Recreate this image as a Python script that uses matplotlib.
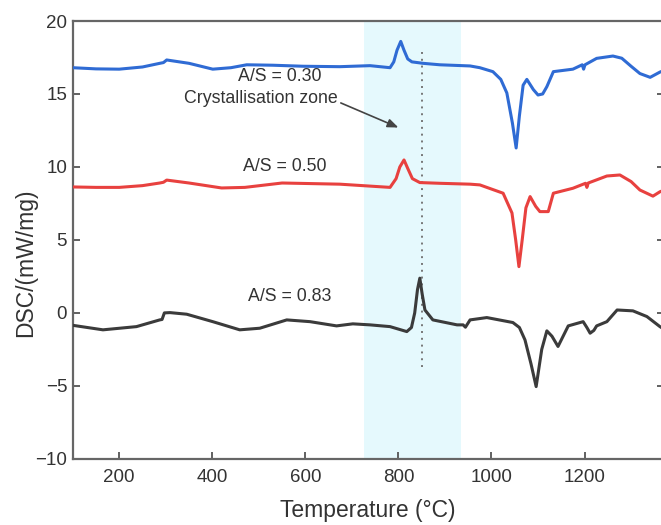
import matplotlib
matplotlib.use("Agg")
import matplotlib.pyplot as plt

plt.rcParams['font.family'] = ['Liberation Sans', 'DejaVu Sans']

# A/S = 0.30 (blue)
t_030 = [100, 150, 200, 250, 287, 295, 302, 350, 401, 440, 474, 530, 595, 674, 739, 782, 790, 797, 805, 812, 820, 829, 853, 889, 954,
         975, 1003, 1020, 1033, 1045, 1053, 1060, 1068, 1076, 1090, 1100, 1110, 1119, 1133, 1175, 1195, 1198, 1201,
         1226, 1261, 1280, 1300, 1319, 1341, 1362, 1370]
v_030 = [16.8, 16.72, 16.7, 16.85, 17.1, 17.15, 17.33, 17.1, 16.7, 16.8, 17.0, 16.97, 16.9, 16.87, 16.94, 16.8, 17.2, 18.0, 18.6, 18.0, 17.4, 17.2, 17.1, 17.0, 16.92,
         16.8, 16.53, 16.0, 15.07, 13.0, 11.3, 13.5, 15.6, 16.0, 15.3, 14.93, 15.0, 15.5, 16.53, 16.7, 17.0, 16.7, 17.0,
         17.44, 17.6, 17.45, 16.9, 16.4, 16.14, 16.5, 16.6]

# A/S = 0.50 (red)
t_050 = [100, 150, 200, 250, 287, 295, 302, 350, 420, 470, 550, 674, 782, 795, 803, 812, 820, 830, 846, 889, 954,
         975, 1025, 1044, 1052, 1059, 1066, 1074, 1083, 1095, 1104, 1122, 1133, 1175, 1202, 1205, 1208,
         1248, 1276, 1300, 1319, 1347, 1362, 1370]
v_050 = [8.63, 8.6, 8.6, 8.72, 8.9, 8.95, 9.1, 8.9, 8.56, 8.6, 8.9, 8.82, 8.6, 9.2, 10.0, 10.48, 9.9, 9.2, 8.93, 8.88, 8.82,
         8.77, 8.2, 6.85, 5.0, 3.17, 5.0, 7.2, 7.97, 7.3, 6.94, 6.94, 8.2, 8.54, 8.88, 8.6, 8.9,
         9.38, 9.45, 9.0, 8.42, 8.0, 8.3, 8.4]

# A/S = 0.83 (dark grey)
t_083 = [100, 165, 237, 287, 292, 297, 309, 345, 401, 459, 502, 560, 610, 667, 702, 739, 782, 818,
         828, 835, 841, 846, 851, 857, 874, 926, 939, 944, 954, 990, 1046, 1060, 1072, 1085, 1096, 1108, 1119,
         1130, 1143, 1165, 1197, 1205, 1212, 1220, 1226, 1248, 1270, 1304, 1334, 1362, 1370]
v_083 = [-0.85, -1.16, -0.94, -0.48, -0.45, 0.0, 0.02, -0.09, -0.6, -1.16, -1.05, -0.48, -0.6, -0.89, -0.75, -0.82, -0.94, -1.28,
         -1.0, 0.0, 1.6, 2.38, 1.3, 0.2, -0.48, -0.82, -0.82, -0.98, -0.48, -0.32, -0.66, -1.0, -1.85, -3.5, -5.05, -2.5, -1.23,
         -1.6, -2.3, -0.89, -0.6, -1.0, -1.39, -1.2, -0.89, -0.6, 0.2, 0.14, -0.25, -0.94, -1.1]

series_labels = ["A/S = 0.30", "A/S = 0.50", "A/S = 0.83"]
label_x = [545, 556, 567]
label_y = [16.2, 10.0, 1.1]
colors = ["#2f6bd4", "#e8413f", "#3b3b3b"]

zone = (725, 935)
peak_line_x = 850
x_ticks = [200, 400, 600, 800, 1000, 1200]
y_ticks = [-10, -5, 0, 5, 10, 15, 20]

fig = plt.figure(figsize=(6.61, 5.25), dpi=100)
ax = fig.add_axes([0.110, 0.126, 0.894, 0.834])

ax.axvspan(zone[0], zone[1], color="#e5f9fd", zorder=0, lw=0)
ax.plot([peak_line_x, peak_line_x], [17.9, -3.7], ls=(0, (1, 2.5)), color="#777777", lw=1.4, zorder=1)

for t, v, c in zip([t_030, t_050, t_083], [v_030, v_050, v_083], colors):
    ax.plot(t, v, color=c, lw=2.2, zorder=3, solid_joinstyle='round', solid_capstyle='round')

for lab, lx, ly in zip(series_labels, label_x, label_y):
    ax.text(lx, ly, lab, ha="center", va="center", fontsize=12.8, color="#333333")

ax.annotate("Crystallisation zone", xy=(800, 12.7), xytext=(505, 14.7),
            ha="center", va="center", fontsize=12.8, color="#333333",
            arrowprops=dict(arrowstyle="-|>,head_length=0.5,head_width=0.2", color="#444444", lw=1.2,
                            shrinkA=0, shrinkB=0, relpos=(1.0, 0.3)))

ax.set_xlim(100, 1370)
ax.set_ylim(-10, 20)
ax.set_xticks(x_ticks)
ax.set_yticks(y_ticks)
ax.set_yticklabels(["\u221210", "\u22125", "0", "5", "10", "15", "20"])
ax.tick_params(axis="both", direction="in", length=5, width=1.3, color="#555555",
               labelsize=13.5, labelcolor="#333333")
ax.tick_params(axis="x", pad=7)
ax.tick_params(axis="y", right=True, pad=4)
for s in ax.spines.values():
    s.set_color("#666666")
    s.set_linewidth(1.6)

ax.set_xlabel("Temperature (\u00b0C)", fontsize=16.5, color="#333333", labelpad=10)
ax.set_ylabel("DSC/(mW/mg)", fontsize=16.5, color="#333333")
ax.yaxis.set_label_coords(-0.061, 0.447)

fig.savefig("out.png", dpi=100)
